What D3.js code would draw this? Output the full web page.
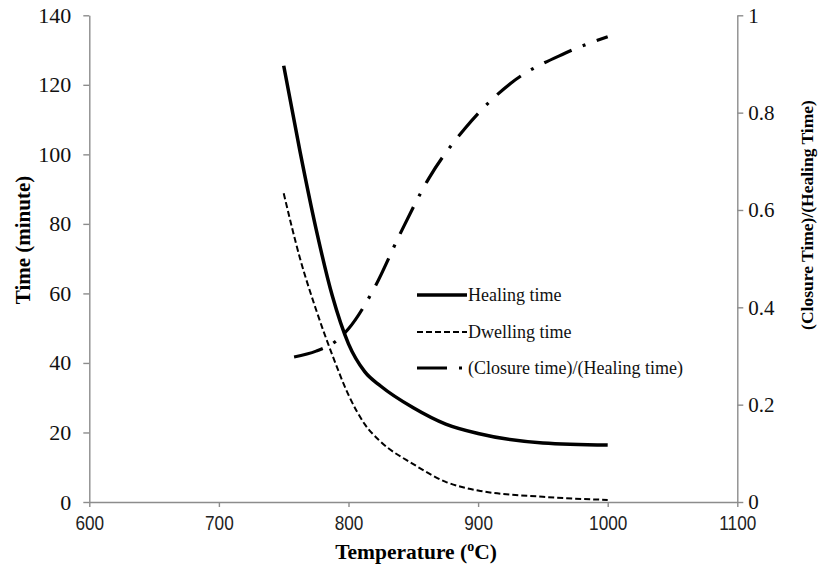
<!DOCTYPE html>
<html>
<head>
<meta charset="utf-8">
<script src="https://cdn.jsdelivr.net/npm/d3@7"></script>
<style>
  html, body { margin: 0; padding: 0; background: #fff; }
  svg { display: block; }
</style>
</head>
<body>
<svg id="chart" width="819" height="566"></svg>
<script>
// Temperatures (°C) at which healing and dwelling times are given
const temps = [750, 762.5, 775, 787.5, 800, 812.5, 825, 850, 875, 900, 950, 1000];
// Healing time (minute)
const healingTime = [125.5, 101, 78.5, 59.3, 45.5, 37.5, 33.3, 27.1, 22.4, 19.7, 17.0, 16.4];
// Dwelling time (minute)
const dwellingTime = [88.8, 70.2, 55.3, 42.3, 30.8, 22.4, 17.3, 10.9, 5.8, 3.3, 1.5, 0.6];
// Ratio (closure time)/(healing time), right axis
const ratioTemps = [758, 775, 790, 800, 820, 840, 862, 890, 925, 967, 1000];
const ratioValues = [0.298, 0.31, 0.33, 0.356, 0.44, 0.552, 0.665, 0.768, 0.86, 0.922, 0.956];

const xTicks = [600, 700, 800, 900, 1000, 1100];
const yLeftTicks = [0, 20, 40, 60, 80, 100, 120, 140];
const yRightTicks = [0, 0.2, 0.4, 0.6, 0.8, 1];

const legendLabels = ["Healing time", "Dwelling time", "(Closure time)/(Healing time)"];

const svg = d3.select("#chart");
const plotLeft = 89.3, plotRight = 737.3, plotTop = 15.3, plotBottom = 502;

const x = d3.scaleLinear().domain([600, 1100]).range([plotLeft, plotRight]);
const yL = d3.scaleLinear().domain([0, 140]).range([plotBottom, plotTop]);
const yR = d3.scaleLinear().domain([0, 1]).range([plotBottom, plotTop]);

const axisColor = "#8c8c8c";
const serif = "'Liberation Serif', 'Times New Roman', serif";
const sans = "'Liberation Sans', Arial, sans-serif";

function styleAxis(g, font, size) {
  g.select(".domain").attr("stroke", axisColor).attr("stroke-width", 1.4);
  g.selectAll(".tick line").attr("stroke", axisColor).attr("stroke-width", 1.4);
  g.selectAll(".tick text")
    .attr("fill", "#111")
    .style("font-family", font)
    .style("font-size", size + "px");
}

// Axes
const gx = svg.append("g")
  .attr("transform", `translate(0,${plotBottom})`)
  .call(d3.axisBottom(x).tickValues(xTicks).tickSize(5).tickPadding(9).tickSizeOuter(0).tickFormat(d3.format("d")));
styleAxis(gx, sans, 20);
// condensed look for the temperature labels
gx.selectAll(".tick text").attr("transform", "scale(0.86,1)").attr("fill", "#222");

const gyl = svg.append("g")
  .attr("transform", `translate(${plotLeft},0)`)
  .call(d3.axisLeft(yL).tickValues(yLeftTicks).tickSize(6).tickPadding(12).tickSizeOuter(0));
styleAxis(gyl, serif, 22);

const gyr = svg.append("g")
  .attr("transform", `translate(${plotRight},0)`)
  .call(d3.axisRight(yR).tickValues(yRightTicks).tickSize(6).tickPadding(5).tickSizeOuter(0)
    .tickFormat(d => d === 0 || d === 1 ? String(d) : d3.format(".1f")(d)));
styleAxis(gyr, serif, 21);

// Axis titles
svg.append("text")
  .attr("transform", "translate(30,240) rotate(-90)")
  .attr("text-anchor", "middle")
  .style("font-family", serif).style("font-weight", "bold").style("font-size", "21px")
  .text("Time (minute)");

svg.append("text")
  .attr("transform", "translate(813,215) rotate(-90)")
  .attr("text-anchor", "middle")
  .style("font-family", serif).style("font-weight", "bold").style("font-size", "17.5px")
  .text("(Closure Time)/(Healing Time)");

const xt = svg.append("text")
  .attr("x", 416).attr("y", 559)
  .attr("text-anchor", "middle")
  .style("font-family", serif).style("font-weight", "bold").style("font-size", "21.5px");
xt.append("tspan").text("Temperature (");
xt.append("tspan").attr("dy", -8).style("font-size", "14px").text("o");
xt.append("tspan").attr("dy", 8).text("C)");

// Curves
const lineL = d3.line().x(d => x(d[0])).y(d => yL(d[1])).curve(d3.curveMonotoneX);
const lineR = d3.line().x(d => x(d[0])).y(d => yR(d[1])).curve(d3.curveMonotoneX);

const styles = [
  { width: 3.5, dash: null },
  { width: 2, dash: "6,3" },
  { width: 3.2, dash: "30,12,3,12" }
];

svg.append("path")
  .attr("d", lineL(temps.map((t, i) => [t, healingTime[i]])))
  .attr("fill", "none").attr("stroke", "#000")
  .attr("stroke-width", styles[0].width);

svg.append("path")
  .attr("d", lineL(temps.map((t, i) => [t, dwellingTime[i]])))
  .attr("fill", "none").attr("stroke", "#000")
  .attr("stroke-width", styles[1].width)
  .attr("stroke-dasharray", styles[1].dash);

svg.append("path")
  .attr("d", lineR(ratioTemps.map((t, i) => [t, ratioValues[i]])))
  .attr("fill", "none").attr("stroke", "#000")
  .attr("stroke-width", styles[2].width)
  .attr("stroke-dasharray", styles[2].dash);

// Legend
const legend = svg.append("g");
const legendY = [295, 332, 368];
legendLabels.forEach((label, i) => {
  legend.append("line")
    .attr("x1", 417).attr("x2", 467)
    .attr("y1", legendY[i]).attr("y2", legendY[i])
    .attr("stroke", "#000")
    .attr("stroke-width", styles[i].width)
    .attr("stroke-dasharray", styles[i].dash);
  legend.append("text")
    .attr("x", 468).attr("y", legendY[i] + 6)
    .style("font-family", serif).style("font-size", "18px")
    .attr("fill", "#111")
    .text(label);
});
</script>
</body>
</html>
